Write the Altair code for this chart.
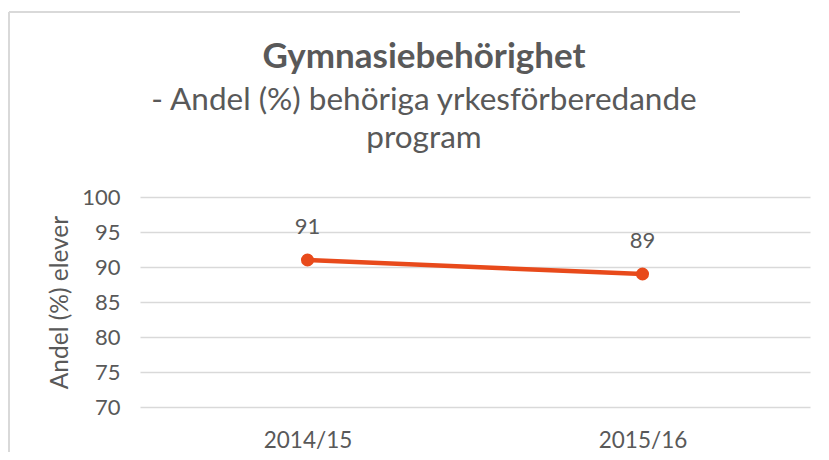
import altair as alt
import pandas as pd

years = ["2014/15", "2015/16"]
values = [91, 89]

df = pd.DataFrame({"year": years, "value": values})

TEXT = "#595959"
LINE = "#E84A1B"
FONT = "Lato"

base = alt.Chart(df).encode(
    x=alt.X("year:N", sort=years, title=None,
            axis=alt.Axis(labelAngle=0, labelFontSize=22.5, labelColor=TEXT, labelFont=FONT,
                          ticks=False, domain=False, labelPadding=22, grid=False),
            scale=alt.Scale(paddingInner=0, paddingOuter=0)),
    y=alt.Y("value:Q", title="Andel (%) elever",
            scale=alt.Scale(domain=[70, 100], nice=False, zero=False),
            axis=alt.Axis(values=[70, 75, 80, 85, 90, 95, 100], labelFontSize=22, labelColor=TEXT,
                          labelFont=FONT, ticks=False, domain=False, labelPadding=20,
                          gridColor="#d9d9d9", gridWidth=1.3,
                          titleFontSize=24.5, titleColor=TEXT, titleFont=FONT,
                          titleFontWeight="normal", titlePadding=9)),
)

line = base.mark_line(color=LINE, strokeWidth=4.5)
pts = base.mark_circle(color=LINE, size=170, opacity=1)
labels = base.mark_text(dy=-33, fontSize=22, color=TEXT, font=FONT).encode(text="value:Q")

top_edge = alt.Chart(df).mark_rule(stroke="#d9d9d9", strokeWidth=2, clip=False).encode(
    x=alt.value(-131), x2=alt.value(600), y=alt.value(-185)
)
left_edge = alt.Chart(df).mark_rule(stroke="#d9d9d9", strokeWidth=2, clip=False).encode(
    x=alt.value(-131), y=alt.value(-185), y2=alt.value(270)
)

chart = alt.layer(top_edge, left_edge, line, pts, labels).properties(
    width=670,
    height=210,
    autosize=alt.AutoSizeParams(type="none"),
    padding={"left": 132, "top": 189, "right": 10, "bottom": 45},
    title=alt.TitleParams(
        text="Gymnasiebehörighet",
        subtitle=["- Andel (%) behöriga yrkesförberedande", "program"],
        anchor="middle",
        dx=-51,
        dy=161,
        fontSize=35,
        font=FONT,
        fontWeight="bold",
        color=TEXT,
        subtitleFontSize=31.5,
        subtitleFont=FONT,
        subtitleColor=TEXT,
        subtitleLineHeight=38,
        subtitlePadding=10,
        offset=18,
    ),
).configure_view(stroke=None)

chart.save("out.html", embed_options={"renderer": "svg", "actions": False})
